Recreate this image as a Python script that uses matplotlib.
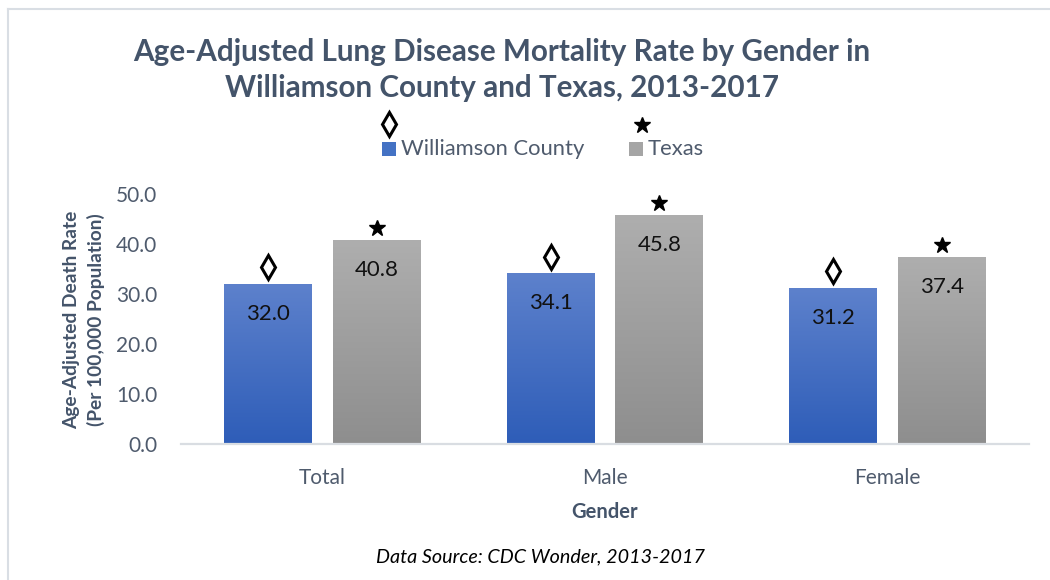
import matplotlib
matplotlib.use("Agg")
import matplotlib.pyplot as plt
import numpy as np
from matplotlib.colors import LinearSegmentedColormap
from matplotlib.lines import Line2D
from matplotlib.patches import Rectangle
from matplotlib.transforms import offset_copy

categories = ["Total", "Male", "Female"]
williamson = [32.0, 34.1, 31.2]
texas = [40.8, 45.8, 37.4]
series_names = ["Williamson County", "Texas"]
yticks = [0, 10, 20, 30, 40, 50]

plt.rcParams["font.family"] = ["Lato", "DejaVu Sans"]

W, H = 1050, 580
fig = plt.figure(figsize=(W / 100, H / 100), dpi=100)
ax = fig.add_axes([181 / W, 1 - 444 / H, (1029 - 181) / W, 250 / H])

def px(x, y):
    return x / W, 1 - y / H

blue_cmap = LinearSegmentedColormap.from_list("blue", ["#2E5DB8", "#5D81CC"])
gray_cmap = LinearSegmentedColormap.from_list("gray", ["#8E8E8E", "#AEAEAE"])
grad = np.linspace(0, 1, 256).reshape(-1, 1)

x = np.arange(len(categories))
width = 0.311
off = 0.192
bars_w = ax.bar(x - off, williamson, width, color="none", zorder=2)
bars_t = ax.bar(x + off, texas, width, color="none", zorder=2)

for bars, cmap in [(bars_w, blue_cmap), (bars_t, gray_cmap)]:
    for b in bars:
        x0, h = b.get_x(), b.get_height()
        ax.imshow(grad, extent=[x0, x0 + b.get_width(), 0, h], origin="lower",
                  aspect="auto", cmap=cmap, zorder=2)

# value labels inside the bars
for bars, vals in [(bars_w, williamson), (bars_t, texas)]:
    for b, v in zip(bars, vals):
        ax.annotate(f"{v:.1f}", (b.get_x() + b.get_width() / 2, v),
                    xytext=(0, -21.5), textcoords="offset points",
                    ha="center", va="center", fontsize=16, color="#111111", zorder=4)

# significance markers above bars
diam_tr = offset_copy(ax.transData, fig=fig, y=17, units="dots")
star_tr = offset_copy(ax.transData, fig=fig, y=12, units="dots")
ax.plot(x - off, williamson, linestyle="none", marker="d", markersize=12,
        markerfacecolor="white", markeredgecolor="black", markeredgewidth=2.2,
        transform=diam_tr, clip_on=False, zorder=5)
ax.plot(x + off, texas, linestyle="none", marker="*", markersize=12,
        color="black", transform=star_tr, clip_on=False, zorder=5)

ax.set_xlim(-0.5, 2.5)
ax.set_ylim(0, 50)
ax.set_yticks(yticks)
ax.set_yticklabels([f"{t:.1f}" for t in yticks])
ax.set_xticks(x)
ax.set_xticklabels(categories)
tick_color = "#4F5B6D"
ax.tick_params(axis="y", length=0, pad=17, labelsize=15, labelcolor=tick_color)
ax.tick_params(axis="x", length=0, pad=17, labelsize=15, labelcolor=tick_color)
for s in ["top", "right", "left"]:
    ax.spines[s].set_visible(False)
ax.spines["bottom"].set_color("#D9DDE2")
ax.spines["bottom"].set_linewidth(1.6)

title_color = "#44546A"
fig.text(*px(502, 52), "Age-Adjusted Lung Disease Mortality Rate by Gender in",
         ha="center", va="center", fontsize=21.3, fontweight="bold", color=title_color)
fig.text(*px(502, 88), "Williamson County and Texas, 2013-2017",
         ha="center", va="center", fontsize=21.3, fontweight="bold", color=title_color)

fig.text(*px(84, 320), "Age-Adjusted Death Rate\n(Per 100,000 Population)",
         ha="center", va="center", rotation=90, fontsize=13.8, fontweight="bold",
         color=title_color, linespacing=1.4)
fig.text(*px(605, 512), "Gender", ha="center", va="center", fontsize=14.5,
         fontweight="bold", color=title_color)
fig.text(*px(541, 557), "Data Source: CDC Wonder, 2013-2017", ha="center", va="center",
         fontsize=14.2, fontstyle="italic", color="black")

# legend
for (sx, name, col) in [(382, series_names[0], "#4472C4"),
                        (629, series_names[1], "#A5A5A5")]:
    fig.add_artist(Rectangle(px(sx, 156), 14 / W, 14 / H, transform=fig.transFigure,
                             facecolor=col, edgecolor="none"))
    fig.text(*px(sx + 19, 149), name, ha="left", va="center", fontsize=15.8,
             color=tick_color)
mx, my = px(389, 124)
fig.add_artist(Line2D([mx], [my], marker="d", markersize=12, markerfacecolor="white",
                      markeredgecolor="black", markeredgewidth=2.2,
                      transform=fig.transFigure))
mx, my = px(642, 125)
fig.add_artist(Line2D([mx], [my], marker="*", markersize=12, color="black",
                      transform=fig.transFigure))

# outer frame lines
border = "#D9DEE4"
fig.add_artist(Line2D([7.5 / W, 7.5 / W], [0, 1 - 9 / H], color=border, lw=1.5,
                      transform=fig.transFigure))
fig.add_artist(Line2D([7.5 / W, 1], [1 - 9 / H, 1 - 9 / H], color=border, lw=1.5,
                      transform=fig.transFigure))

fig.savefig("out.png", dpi=100)
